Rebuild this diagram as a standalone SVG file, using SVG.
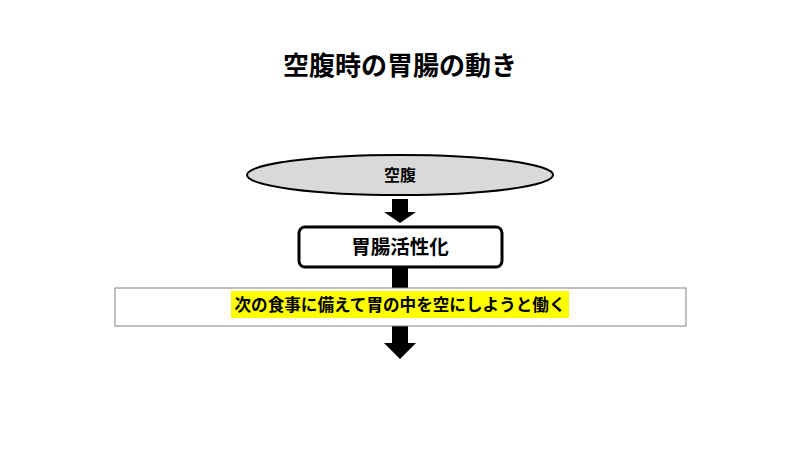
<svg xmlns="http://www.w3.org/2000/svg" width="800" height="450" viewBox="0 0 800 450">
<style>
text{font-family:"Noto Sans CJK JP","Noto Sans CJK SC",sans-serif;font-weight:bold;fill:#000;text-anchor:middle;dominant-baseline:central}
.arrow{fill:#000}
</style>
<rect width="800" height="450" fill="#fff"/>
<text id="title" x="400" y="63" font-size="26">空腹時の胃腸の動き</text>
<g id="connectors">
<polygon class="arrow" points="392,199 408,199 408,212 416,212 400,223 384,212 392,212"/>
<rect class="arrow" x="392" y="267" width="16" height="22"/>
<polygon class="arrow" points="392,326 408,326 408,343 416,343 400,359 384,343 392,343"/>
</g>
<g id="node-hunger">
<ellipse cx="400" cy="175" rx="153" ry="20" fill="#d9d9d9" stroke="#000" stroke-width="2"/>
<text x="400" y="173.5" font-size="16">空腹</text>
</g>
<g id="node-activation">
<rect x="299" y="227" width="203" height="40" rx="6" fill="#fff" stroke="#000" stroke-width="3"/>
<text x="400" y="245.5" font-size="19.5">胃腸活性化</text>
</g>
<g id="node-empty">
<rect x="115" y="288" width="571" height="38" fill="#fff" stroke="#808080" stroke-width="1"/>
<rect x="231" y="291" width="338" height="27" fill="#ffff00"/>
<text x="400" y="303.5" font-size="16.6">次の食事に備えて胃の中を空にしようと働く</text>
</g>
</svg>
